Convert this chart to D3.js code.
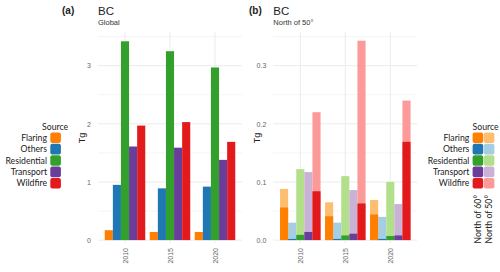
<!DOCTYPE html>
<html>
<head>
<meta charset="utf-8">
<script src="https://cdn.jsdelivr.net/npm/d3@7"></script>
<style>
  body { margin: 0; background: #fff; }
  svg { display: block; }
  .tick text { fill: #666; font-family: "Liberation Sans", Arial, sans-serif; font-size: 7px; }
  .leg text { font-family: Lato, "Noto Sans", sans-serif; font-size: 8.7px; fill: #222; }
</style>
</head>
<body>
<svg id="chart" width="500" height="272"></svg>
<script>
/* data */
var years = ["2010", "2015", "2020"];
var sources = ["Flaring", "Others", "Residential", "Transport", "Wildfire"];
var darkColors = ["#FF7F00", "#1F78B4", "#33A02C", "#6A3D9A", "#E31A1C"];
var lightColors = ["#FDBF6F", "#A6CEE3", "#B2DF8A", "#CAB2D6", "#FB9A99"];

// global emissions, Tg (rows = years, cols = sources)
var globalBC = [
  [0.17, 0.95, 3.42, 1.61, 1.97],
  [0.14, 0.89, 3.25, 1.59, 2.03],
  [0.14, 0.92, 2.97, 1.38, 1.69]
];
// north of 50 degrees
var north50 = [
  [0.088, 0.030, 0.122, 0.117, 0.220],
  [0.065, 0.030, 0.110, 0.086, 0.343],
  [0.069, 0.040, 0.100, 0.062, 0.240]
];
// north of 60 degrees
var north60 = [
  [0.056, 0.002, 0.009, 0.014, 0.084],
  [0.041, 0.002, 0.008, 0.011, 0.063],
  [0.044, 0.002, 0.007, 0.008, 0.169]
];
var ticksA = [0, 1, 2, 3];
var ticksB = [0, 0.1, 0.2, 0.3];

var svg = d3.select("#chart");

function flatten(arr) {
  var out = [];
  arr.forEach(function(row, i) {
    row.forEach(function(v, j) {
      out.push({year: years[i], src: sources[j], idx: j, value: v});
    });
  });
  return out;
}

function panel(opt) {
  var g = svg.append("g");
  var x = d3.scalePoint().domain(years).range([opt.left, opt.right]).padding(0.6);
  var step = x.step();
  var inner = d3.scaleBand().domain(sources).range([-step * 0.45, step * 0.45]);
  var y = d3.scaleLinear().domain(opt.ydom).range([243, 32]);

  // minor grid
  var minor = [];
  for (var i = 0; i < opt.ticks.length; i++) {
    var m = opt.ticks[i] + opt.minorStep;
    if (m < opt.ydom[1]) minor.push(m);
  }
  g.selectAll(".minor").data(minor).enter().append("line")
    .attr("x1", opt.left).attr("x2", opt.right)
    .attr("y1", function(d) { return y(d); }).attr("y2", function(d) { return y(d); })
    .attr("stroke", "#f3f3f3").attr("stroke-width", 0.8);
  g.selectAll(".major").data(opt.ticks).enter().append("line")
    .attr("x1", opt.left).attr("x2", opt.right)
    .attr("y1", function(d) { return y(d); }).attr("y2", function(d) { return y(d); })
    .attr("stroke", "#ebebeb").attr("stroke-width", 1);
  g.selectAll(".vg").data(years).enter().append("line")
    .attr("x1", function(d) { return x(d); }).attr("x2", function(d) { return x(d); })
    .attr("y1", 32).attr("y2", 243)
    .attr("stroke", "#ebebeb").attr("stroke-width", 1);

  opt.layers.forEach(function(layer) {
    g.append("g").selectAll("rect").data(flatten(layer.data)).enter().append("rect")
      .attr("x", function(d) { return x(d.year) + inner(d.src); })
      .attr("width", inner.bandwidth())
      .attr("y", function(d) { return y(d.value); })
      .attr("height", function(d) { return y(0) - y(d.value); })
      .attr("fill", function(d) { return layer.colors[d.idx]; });
  });

  // axes
  var ya = g.append("g").attr("transform", "translate(" + (opt.left - 4) + ",0)")
    .call(d3.axisLeft(y).tickValues(opt.ticks).tickSize(0).tickFormat(d3.format(opt.fmt)));
  ya.select(".domain").remove();
  var xa = g.append("g").attr("transform", "translate(0,245)")
    .call(d3.axisBottom(x).tickSize(0));
  xa.select(".domain").remove();
  xa.selectAll("text")
    .attr("transform", "rotate(-90)")
    .attr("x", -3).attr("y", 0).attr("dy", "0.35em")
    .style("text-anchor", "end");

  g.append("text").attr("transform", "translate(" + (opt.left - 13) + ",138) rotate(-90)")
    .attr("text-anchor", "middle").attr("font-family", "Liberation Sans, Arial, sans-serif")
    .attr("font-size", 9).attr("fill", "#222").text("Tg");

  // titles
  g.append("text").attr("x", opt.left).attr("y", 15)
    .attr("font-family", "Liberation Sans, Arial, sans-serif").attr("font-size", 11.5)
    .attr("fill", "#222").text("BC");
  g.append("text").attr("x", opt.left).attr("y", 25)
    .attr("font-family", "Liberation Sans, Arial, sans-serif").attr("font-size", 7.5)
    .attr("fill", "#333").text(opt.sub);
  g.append("text").attr("x", opt.tagX).attr("y", 14)
    .attr("font-family", "Liberation Sans, Arial, sans-serif").attr("font-size", 10)
    .attr("font-weight", "bold").attr("fill", "#222").text(opt.tag);
}

function legend(opt) {
  var g = svg.append("g").attr("class", "leg");
  var keyW = 11.2;
  var rowH = 11.4;
  var totalW = keyW * opt.cols.length;
  g.append("text").attr("x", opt.keyX + totalW + opt.titleShift).attr("y", 129.5)
    .attr("text-anchor", "end").text("Source");
  sources.forEach(function(s, i) {
    var cy = 137.7 + i * rowH;
    opt.cols.forEach(function(cols, c) {
      g.append("rect").attr("x", opt.keyX + c * keyW + 0.3).attr("y", cy - keyW / 2 + 0.3)
        .attr("width", keyW - 0.6).attr("height", keyW - 0.6).attr("rx", 2)
        .attr("fill", cols[i]);
    });
    g.append("text").attr("x", opt.keyX - 3).attr("y", cy).attr("dy", "0.35em")
      .attr("text-anchor", "end").text(s);
  });
  if (opt.colLabels) {
    opt.colLabels.forEach(function(lab, c) {
      g.append("text")
        .attr("transform", "translate(" + (opt.keyX + c * keyW + keyW / 2) + ",195) rotate(-90)")
        .attr("dy", "0.35em").attr("text-anchor", "end").text(lab);
    });
  }
}

panel({
  left: 98, right: 242, ydom: [-0.05, 3.58], ticks: ticksA, minorStep: 0.5, fmt: "d",
  sub: "Global", tag: "(a)", tagX: 62,
  layers: [{data: globalBC, colors: darkColors}]
});
panel({
  left: 273.3, right: 417.3, ydom: [-0.005, 0.358], ticks: ticksB, minorStep: 0.05, fmt: ".1f",
  sub: "North of 50\u00b0", tag: "(b)", tagX: 249,
  layers: [{data: north50, colors: lightColors}, {data: north60, colors: darkColors}]
});

legend({keyX: 50, cols: [darkColors], titleShift: 7});
legend({keyX: 472.3, cols: [darkColors, lightColors], titleShift: 4,
  colLabels: ["North of 60\u00b0", "North of 50\u00b0"]});
</script>
</body>
</html>
